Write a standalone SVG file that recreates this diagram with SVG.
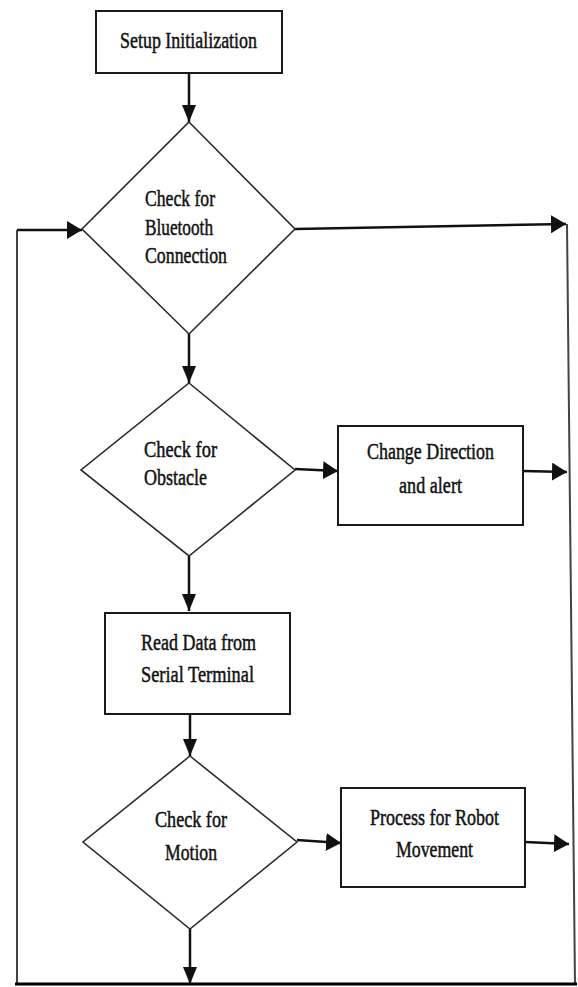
<svg xmlns="http://www.w3.org/2000/svg" width="578" height="987" viewBox="0 0 578 987">
<style>
  .box { fill: #fff; stroke: #1a1a1a; stroke-width: 2; }
  .dia { fill: #fff; stroke: #2a2a2a; stroke-width: 1.6; }
  .lbl { font-family: "Liberation Serif", "Times New Roman", serif; font-size: 24px; fill: #111; stroke: #111; stroke-width: 0.5; }
  .con { fill: none; stroke: #111; stroke-width: 2.5; }
  .frame { fill: none; stroke: #444; stroke-width: 2; }
</style>
<defs>
  <marker id="arrV" markerUnits="userSpaceOnUse" markerWidth="18" markerHeight="16" refX="17" refY="7" orient="auto">
    <path d="M0,0 L17,7 L0,14 Z" fill="#111"/>
  </marker>
  <marker id="arrH" markerUnits="userSpaceOnUse" markerWidth="16" markerHeight="20" refX="15" refY="9" orient="auto">
    <path d="M0,0 L15,9 L0,18 Z" fill="#111"/>
  </marker>
</defs>

<g id="connectors">
  <path class="frame" d="M17,984 L17,230"/>
  <path class="con" d="M17,230 L82,230" marker-end="url(#arrH)"/>
  <path class="con" d="M295,229 L566,224" marker-end="url(#arrH)"/>
  <path class="frame" d="M567,224 L575,984"/>
  <path d="M15,984 L577,984" stroke="#000" stroke-width="3" fill="none"/>
  <path class="con" d="M189,73 L189,122" marker-end="url(#arrV)"/>
  <path class="con" d="M189,333 L189,383" marker-end="url(#arrV)"/>
  <path class="con" d="M189,556 L189,611" marker-end="url(#arrV)"/>
  <path class="con" d="M190,714 L190,756" marker-end="url(#arrV)"/>
  <path class="con" d="M190,929 L190,984" marker-end="url(#arrV)"/>
  <path class="con" d="M295,469 L338,471" marker-end="url(#arrH)"/>
  <path class="con" d="M523,471 L567,472" marker-end="url(#arrH)"/>
  <path class="con" d="M297,840 L341,843" marker-end="url(#arrH)"/>
  <path class="con" d="M525,842 L569,844" marker-end="url(#arrH)"/>
</g>

<g id="setup">
  <rect class="box" x="96" y="11" width="186" height="62"/>
  <text class="lbl" x="120" y="48" textLength="137" lengthAdjust="spacingAndGlyphs">Setup Initialization</text>
</g>

<g id="check-bluetooth">
  <polygon class="dia" points="189,122 295,229 189,334 82,229"/>
  <text class="lbl" x="145" y="206" textLength="70" lengthAdjust="spacingAndGlyphs">Check for</text>
  <text class="lbl" x="145" y="235" textLength="68" lengthAdjust="spacingAndGlyphs">Bluetooth</text>
  <text class="lbl" x="145" y="263" textLength="82" lengthAdjust="spacingAndGlyphs">Connection</text>
</g>

<g id="check-obstacle">
  <polygon class="dia" points="189,383 295,470 189,556 81,470"/>
  <text class="lbl" x="144" y="457" textLength="73" lengthAdjust="spacingAndGlyphs">Check for</text>
  <text class="lbl" x="144" y="485" textLength="63" lengthAdjust="spacingAndGlyphs">Obstacle</text>
</g>

<g id="change-direction">
  <rect class="box" x="338" y="426" width="185" height="99"/>
  <text class="lbl" x="367" y="459" textLength="127" lengthAdjust="spacingAndGlyphs">Change Direction</text>
  <text class="lbl" x="399" y="493" textLength="63" lengthAdjust="spacingAndGlyphs">and alert</text>
</g>

<g id="read-data">
  <rect class="box" x="105" y="613" width="185" height="101"/>
  <text class="lbl" x="141" y="650" textLength="115" lengthAdjust="spacingAndGlyphs">Read Data from</text>
  <text class="lbl" x="141" y="682" textLength="113" lengthAdjust="spacingAndGlyphs">Serial Terminal</text>
</g>

<g id="check-motion">
  <polygon class="dia" points="190,756 297,842 190,929 83,842"/>
  <text class="lbl" x="155" y="827" textLength="72" lengthAdjust="spacingAndGlyphs">Check for</text>
  <text class="lbl" x="165" y="860" textLength="52" lengthAdjust="spacingAndGlyphs">Motion</text>
</g>

<g id="process-movement">
  <rect class="box" x="341" y="788" width="184" height="99"/>
  <text class="lbl" x="370" y="825" textLength="129" lengthAdjust="spacingAndGlyphs">Process for Robot</text>
  <text class="lbl" x="396" y="857" textLength="77" lengthAdjust="spacingAndGlyphs">Movement</text>
</g>
</svg>
